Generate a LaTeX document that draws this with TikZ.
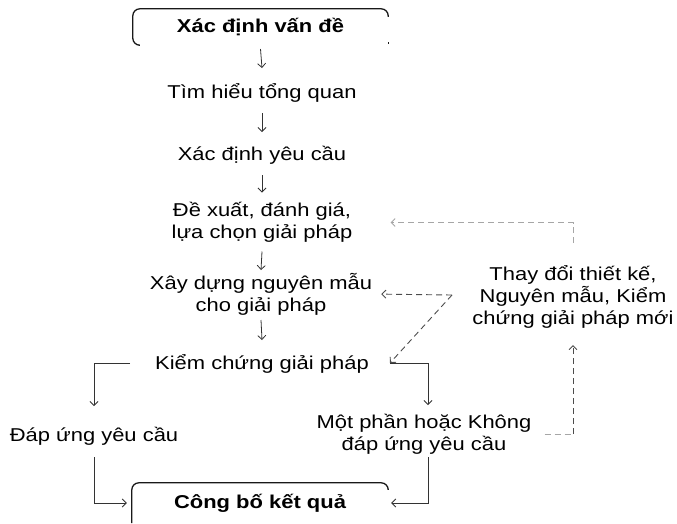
\documentclass[tikz,border=0pt]{standalone}
\usepackage{fontspec}
\setmainfont[FakeStretch=1.18]{Liberation Sans}
\usetikzlibrary{arrows.meta}
\tikzset{
  txt/.style={font=\fontsize{18.6}{22}\selectfont, align=center, inner sep=0pt},
  boxtxt/.style={font=\fontsize{18.6}{22}\selectfont\bfseries, inner sep=0pt},
  boxline/.style={line width=1.3pt, black!90},
  conn/.style={line width=0.8pt, black!80, -{Straight Barb[length=4pt,width=8pt]}},
  plain/.style={line width=0.8pt, black!80},
  dlight/.style={line width=0.9pt, black!35, dash pattern=on 6pt off 4pt},
  ddark/.style={line width=0.9pt, black!70, dash pattern=on 6pt off 4pt},
  tip/.style={-{Straight Barb[length=4pt,width=8pt]}}
}
\begin{document}
\begin{tikzpicture}[x=1pt,y=-1pt]
\useasboundingbox (0,0) rectangle (677,523);
% nodes
\node[boxtxt, minimum width=255pt, minimum height=36pt] (top) at (260.5,27) {Xác định vấn đề};
\node[txt] (tim) at (262,93) {Tìm hiểu tổng quan};
\node[txt] (xd) at (262,155) {Xác định yêu cầu};
\node[txt] (de) at (262,222.5) {Đề xuất, đánh giá,\\lựa chọn giải pháp};
\node[txt] (xay) at (261,294) {Xây dựng nguyên mẫu\\cho giải pháp};
\node[txt] (kiem) at (262,364) {Kiểm chứng giải pháp};
\node[txt] (dap) at (94,436) {Đáp ứng yêu cầu};
\node[txt] (mot) at (424,434) {Một phần hoặc Không\\đáp ứng yêu cầu};
\node[txt] (thay) at (573,297) {Thay đổi thiết kế,\\Nguyên mẫu, Kiểm\\chứng giải pháp mới};
\node[boxtxt, minimum width=256pt, minimum height=40pt] (pub) at (260,503) {Công bố kết quả};
% box outlines
\draw[boxline, rounded corners=7pt] ([xshift=6pt]top.south west) -- (top.south west) -- (top.north west) -- (top.north east) -- ([yshift=-8pt]top.north east);
\draw[boxline] ([yshift=3pt]top.south east) -- ([yshift=1pt]top.south east);
\draw[boxline, rounded corners=7pt] (pub.south west) -- (pub.north west) -- (pub.north east) -- ([yshift=-6pt]pub.north east);
% junction coordinates
\coordinate (c3) at (390,363);
\coordinate (c2) at (452,295);
\coordinate (c1) at (573,434);
% main vertical arrows
\draw[conn] ([yshift=-22pt]top.center) -- ([yshift=25pt]tim.center);
\draw[conn] ([yshift=-20pt]tim.center) -- ([yshift=23pt]xd.center);
\draw[conn] ([yshift=-20pt]xd.center) -- ([yshift=30pt]de.center);
\draw[conn] ([yshift=-29pt]de.center) -- ([yshift=24pt]xay.center);
\draw[conn] ([yshift=-26pt]xay.center) -- ([yshift=24pt]kiem.center);
% branches
\draw[conn] ([xshift=-25pt,yshift=1pt]kiem.west) -| ([yshift=30pt]dap.center);
\draw[conn, shorten >=5pt] ([yshift=-21pt]dap.center) |- (pub.west);
\draw[conn] (c3) -| ([xshift=4pt,yshift=29pt]mot.center);
\draw[conn, shorten >=3pt] ([xshift=4pt,yshift=-23pt]mot.center) |- (pub.east);
% dashed feedback
\draw[dlight, shorten <=13pt] (mot.east) -- (c1);
\draw[ddark, tip] (c1) -- ([yshift=-48pt]thay.center);
\draw[dlight, tip, shorten >=38pt] ([yshift=54pt]thay.center) |- (de.east);
\draw[ddark, tip, shorten >=9pt] (c2) -- (xay.east);
\draw[ddark, tip] (c2) -- (c3);
\end{tikzpicture}
\end{document}
